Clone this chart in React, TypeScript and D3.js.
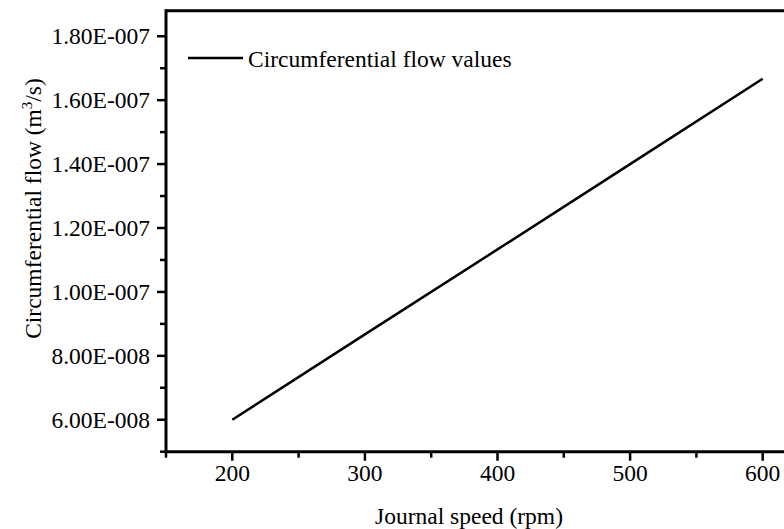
import React from "react";
import * as d3 from "d3";

const speeds = [200, 300, 400, 500, 600];
const flows = [6.0e-8, 8.67e-8, 1.133e-7, 1.4e-7, 1.667e-7];
const xTicks = [200, 300, 400, 500, 600];
const yTicks = [6e-8, 8e-8, 1e-7, 1.2e-7, 1.4e-7, 1.6e-7, 1.8e-7];
const yTickLabels = ["6.00E-008", "8.00E-008", "1.00E-007", "1.20E-007", "1.40E-007", "1.60E-007", "1.80E-007"];
const xMinor = [150, 250, 350, 450, 550, 650];
const yMinor = [5e-8, 7e-8, 9e-8, 1.1e-7, 1.3e-7, 1.5e-7, 1.7e-7];
const seriesName = "Circumferential flow values";

export default function App() {
  const W = 784, H = 529;
  const left = 166, top = 10.7, bottom = 451.7;
  const x = d3.scaleLinear().domain([150, 650]).range([left, left + 663]);
  const y = d3.scaleLinear().domain([5e-8, 1.88e-7]).range([bottom, top]);
  const line = d3.line<number>().x((d, i) => x(speeds[i])).y((d) => y(d));
  const ts = { fontFamily: '"Liberation Serif"' };
  const fs = 23.5;
  return (
    <svg width={W} height={H} style={{ position: "absolute", left: 0, top: 0, background: "#fff" }}>
      <rect x={0} y={0} width={W} height={H} fill="#fff" />
      <line x1={left} y1={top} x2={W + 10} y2={top} stroke="#000" strokeWidth={3} />
      <line x1={left} y1={top - 1.5} x2={left} y2={bottom} stroke="#000" strokeWidth={3} />
      <line x1={left - 1.5} y1={bottom} x2={W + 10} y2={bottom} stroke="#000" strokeWidth={3} />
      {yTicks.map((t, i) => (
        <g key={"yt" + i}>
          <line x1={left - 9} x2={left} y1={y(t)} y2={y(t)} stroke="#000" strokeWidth={2.5} />
          <text style={ts} x={150} y={y(t)} dy="0.35em" textAnchor="end" fontSize={fs} fill="#000">{yTickLabels[i]}</text>
        </g>
      ))}
      {yMinor.map((t, i) => (
        <line key={"ym" + i} x1={left - 6} x2={left} y1={y(t)} y2={y(t)} stroke="#000" strokeWidth={2.5} />
      ))}
      {xTicks.map((t, i) => (
        <g key={"xt" + i}>
          <line x1={x(t)} x2={x(t)} y1={bottom} y2={bottom + 9} stroke="#000" strokeWidth={2.5} />
          <text style={ts} x={x(t)} y={481} textAnchor="middle" fontSize={fs} fill="#000">{t}</text>
        </g>
      ))}
      {xMinor.map((t, i) => (
        <line key={"xm" + i} x1={x(t)} x2={x(t)} y1={bottom} y2={bottom + 6} stroke="#000" strokeWidth={2.5} />
      ))}
      <path d={line(flows) || ""} fill="none" stroke="#000" strokeWidth={2.5} />
      <line x1={188} x2={243} y1={58} y2={58} stroke="#000" strokeWidth={2.5} />
      <text style={ts} x={248} y={66.5} fontSize={fs} fill="#000">{seriesName}</text>
      <text style={ts} x={469} y={524} textAnchor="middle" fontSize={fs} fill="#000">Journal speed (rpm)</text>
      <text style={ts} transform={`translate(41,208.5) rotate(-90)`} textAnchor="middle" fontSize={fs} fill="#000">
        Circumferential flow (m<tspan dy={-9} fontSize={15}>3</tspan><tspan dy={9}>/s)</tspan>
      </text>
    </svg>
  );
}
